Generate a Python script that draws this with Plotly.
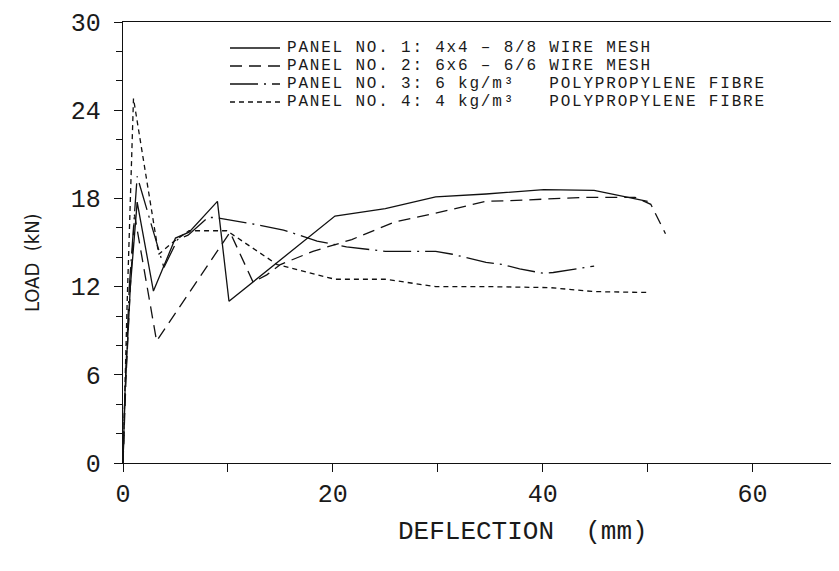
import plotly.graph_objects as go

# ---- data (deflection mm, load kN) ----
p1_x = [0, 0.2, 0.7, 1.35, 2.9, 5.0, 6.3, 9.0, 10.1, 20.2, 25.0, 29.8, 34.6, 40.1, 44.9, 50.0]
p1_y = [0, 5.0, 12.0, 17.75, 11.7, 15.3, 15.7, 17.8, 11.0, 16.8, 17.3, 18.1, 18.3, 18.6, 18.55, 17.8]

p2_x = [0, 0.3, 0.7, 1.1, 3.2, 10.2, 12.4, 13.7, 15.0, 18.1, 21.8, 25.9, 29.8, 34.6, 36.9, 40.1, 44.0, 48.8, 50.3, 51.7]
p2_y = [0, 6.0, 12.0, 16.9, 8.3, 15.7, 12.3, 12.8, 13.5, 14.4, 15.2, 16.4, 17.0, 17.8, 17.85, 17.96, 18.07, 18.07, 17.6, 15.6]

p3_x = [0, 0.2, 0.6, 1.35, 3.9, 5.2, 6.2, 8.1, 8.8, 10.5, 12.1, 15.3, 16.9, 18.5, 21.3, 23.3, 25.0, 28.2, 29.8, 31.4, 34.6, 36.2, 37.8, 40.1, 41.0, 44.9]
p3_y = [0, 5.0, 12.0, 19.5, 13.3, 15.2, 15.5, 16.7, 16.7, 16.5, 16.3, 15.85, 15.5, 15.1, 14.7, 14.55, 14.4, 14.4, 14.4, 14.2, 13.65, 13.5, 13.2, 12.9, 12.96, 13.4]

p4_x = [0, 0.15, 0.4, 1.0, 3.4, 4.9, 6.3, 9.9, 14.7, 20.2, 25.0, 29.8, 34.6, 40.7, 44.9, 49.9]
p4_y = [0, 5.0, 11.0, 24.8, 14.2, 15.1, 15.8, 15.8, 13.5, 12.5, 12.5, 12.0, 12.0, 11.93, 11.66, 11.6]

names = [
    "PANEL NO. 1: 4x4 \u2013 8/8 WIRE MESH",
    "PANEL NO. 2: 6x6 \u2013 6/6 WIRE MESH",
    "PANEL NO. 3: 6 kg/m\u00b3\u00a0\u00a0 POLYPROPYLENE FIBRE",
    "PANEL NO. 4: 4 kg/m\u00b3\u00a0\u00a0 POLYPROPYLENE FIBRE",
]
x_ticks = [0, 20, 40, 60]
y_ticks = [0, 6, 12, 18, 24, 30]
x_title = "DEFLECTION\u00a0 (mm)"
y_title = "LOAD\u00a0 (kN)"

MONO = "Liberation Mono, DejaVu Sans Mono, monospace"
COND = "DejaVu Sans Condensed, DejaVu Sans, sans-serif"
INK = "#111111"
TXT = "#1a1a1a"
dashes = ["solid", "12px,7px", "28px,6px,2px,6px", "5px,4px"]
series = [(p1_x, p1_y), (p2_x, p2_y), (p3_x, p3_y), (p4_x, p4_y)]

# layout geometry (pixels)
W, H = 839, 571
L, T, B = 115, 14, 116
PW, PH = W - L, H - T - B


def px(xp):
    return (xp - L) / PW


def py(yp):
    return (H - B - yp) / PH


fig = go.Figure()
for (xs, ys), nm, d in zip(series, names, dashes):
    fig.add_trace(go.Scatter(x=xs, y=ys, mode="lines", name=nm, showlegend=False,
                             line=dict(color=INK, width=1.3, dash=d)))

# hand-drawn legend (tight rows as in the original)
rows = [40, 58, 76, 94]
for nm, d, r in zip(names, dashes, rows):
    fig.add_shape(type="line", xref="paper", yref="paper",
                  x0=px(222), x1=px(272), y0=py(r), y1=py(r),
                  line=dict(color=INK, width=1.3, dash=d))
    fig.add_annotation(xref="paper", yref="paper", x=px(278), y=py(r),
                       xanchor="left", yanchor="middle", showarrow=False,
                       borderpad=0,
                       text='<span style="letter-spacing:1.8px">' + nm + "</span>",
                       font=dict(family=MONO, size=16, color=TXT))

fig.add_annotation(xref="paper", yref="paper", x=px(515), y=py(524),
                   xanchor="center", yanchor="middle", showarrow=False,
                   text=x_title, font=dict(family=MONO, size=26, color=TXT))
fig.add_annotation(xref="paper", yref="paper", x=px(24), y=py(254),
                   xanchor="center", yanchor="middle", showarrow=False,
                   textangle=-90, text=y_title,
                   font=dict(family=COND, size=20, color=TXT))

fig.update_layout(
    width=W, height=H,
    margin=dict(l=L, r=0, t=T, b=B),
    paper_bgcolor="white", plot_bgcolor="white",
    font=dict(family=MONO, color=TXT, size=24),
    showlegend=False,
    xaxis=dict(range=[0, 69], tickvals=x_ticks, ticks="outside", ticklen=8,
               tickcolor=INK, showline=True, linecolor=INK, linewidth=1.4,
               mirror=True, showgrid=False, zeroline=False,
               tickfont=dict(family=MONO, size=25),
               minor=dict(dtick=10, ticks="outside", ticklen=8, tickcolor=INK)),
    yaxis=dict(range=[0, 30], tickvals=y_ticks, ticks="outside", ticklen=8,
               tickcolor=INK, showline=True, linecolor=INK, linewidth=1.4,
               showgrid=False, zeroline=False,
               tickfont=dict(family=MONO, size=25),
               ticklabelstandoff=8,
               minor=dict(dtick=2, ticks="outside", ticklen=6, tickcolor=INK)),
)

fig.write_html("out.html")
